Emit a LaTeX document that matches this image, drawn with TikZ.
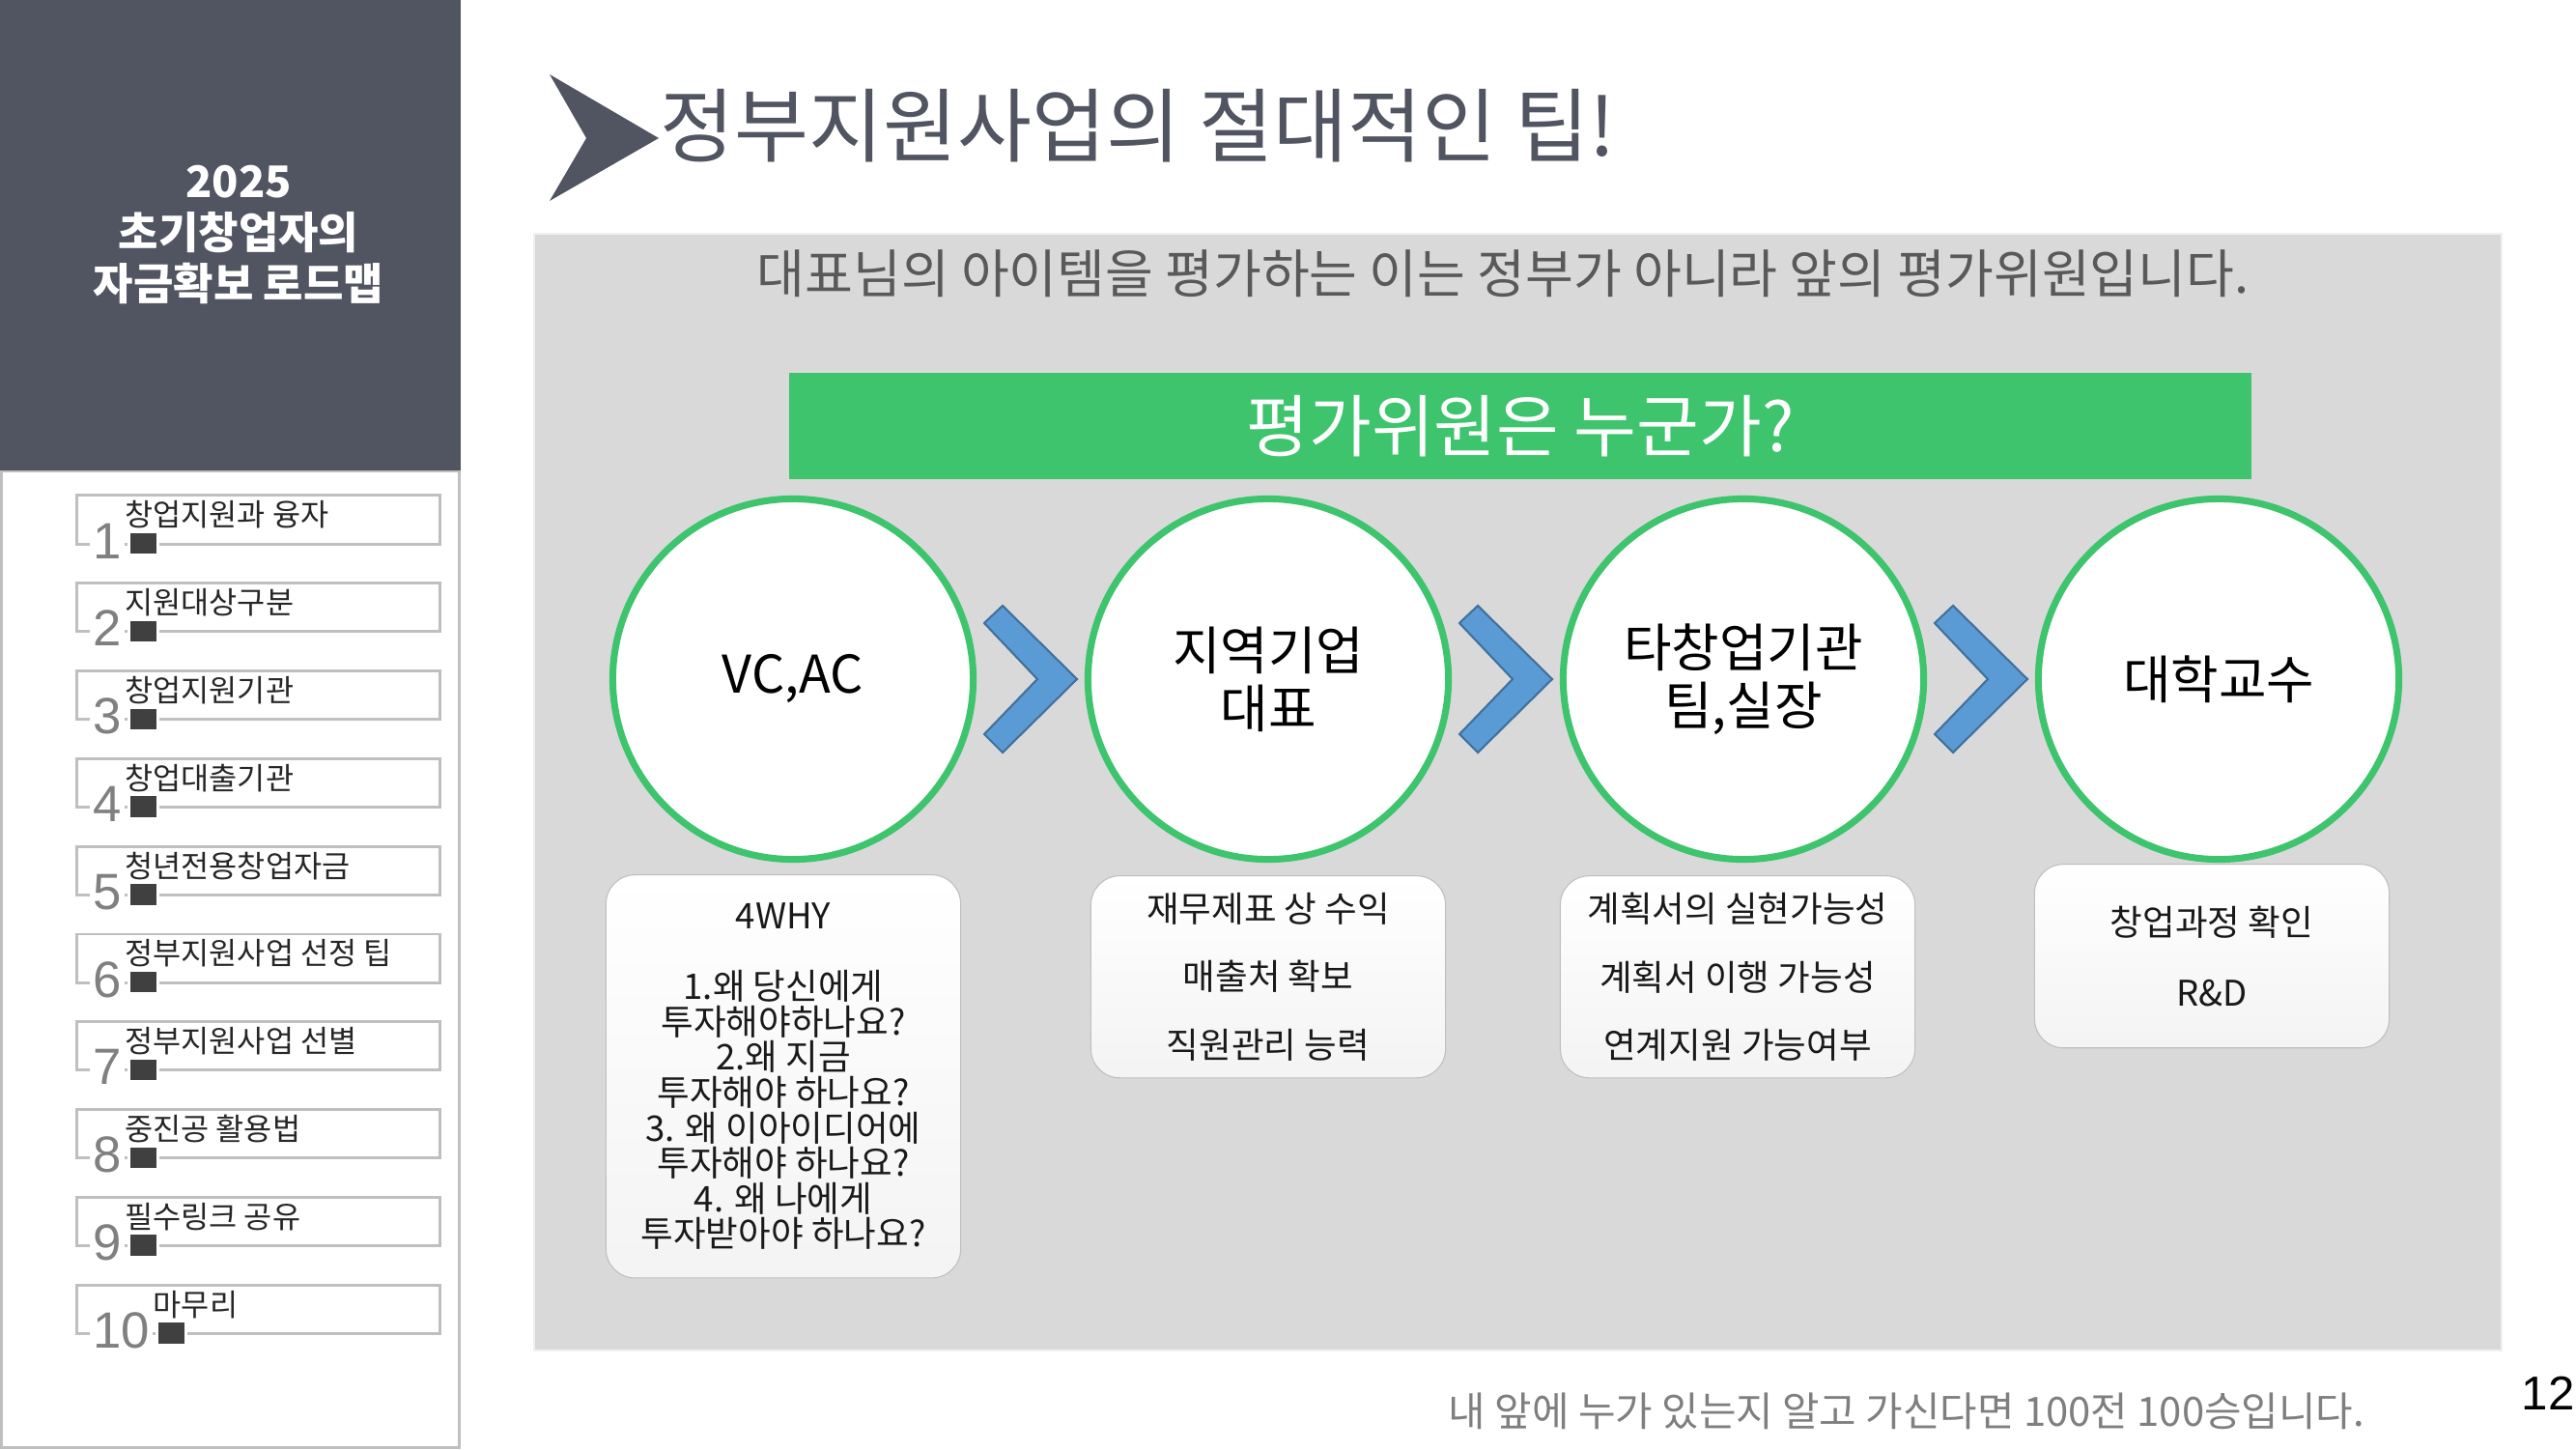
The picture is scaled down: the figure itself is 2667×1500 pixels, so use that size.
\documentclass[tikz,border=0pt]{standalone}
\usepackage{fontspec}
\setmainfont{Noto Sans CJK KR}
\newfontfamily\arialfont{Liberation Sans}
\usepackage{xcolor}
\usepackage{tikz}
\usetikzlibrary{positioning, calc}
\definecolor{slateDark}{HTML}{515561}
\definecolor{panelGrey}{HTML}{D9D9D9}
\definecolor{evalGreen}{HTML}{3EC46D}
\definecolor{chevBlue}{HTML}{5B9BD5}
\definecolor{chevEdge}{HTML}{41719C}
\definecolor{lineGrey}{HTML}{BFBFBF}
\definecolor{markGrey}{HTML}{404040}
\definecolor{textGrey}{HTML}{595959}
\definecolor{footGrey}{HTML}{7F7F7F}
\tikzset{
    menu_box/.style={
        rectangle, draw=lineGrey, line width=0.85pt,
        minimum width=3.75cm, minimum height=0.5cm, inner sep=0pt
    },
    menu_num/.style={
        font=\arialfont\fontsize{15}{15}\selectfont, text=gray,
        fill=white, inner sep=1pt, anchor=base west
    },
    menu_mark/.style={
        rectangle, fill=markGrey, draw=white, line width=1pt,
        minimum width=0.3cm, minimum height=0.25cm, inner sep=0pt, anchor=south west
    },
    menu_lbl/.style={
        font=\fontsize{9}{9}\selectfont, text=black!85, inner sep=0pt, anchor=base west
    },
    eval_circle/.style={
        circle, draw=evalGreen, line width=2pt, fill=white,
        minimum size=3.73cm, inner sep=0pt,
        align=center, font=\fontsize{15.3}{17}\selectfont
    },
    note_box/.style={
        rectangle, rounded corners=0.3cm, draw=lineGrey, line width=0.3pt,
        top color=white, bottom color=gray!9,
        minimum width=3.67cm, inner sep=0pt,
        align=center, font=\fontsize{10.4}{10.4}\selectfont, text=black!90
    },
    banner_green/.style={
        rectangle, fill=evalGreen, minimum width=15.13cm, minimum height=1.1cm,
        text=white, font=\fontsize{20}{22}\selectfont
    },
    chevron_blue/.style={
        fill=chevBlue, draw=chevEdge, line width=0.6pt, line join=miter
    }
}

\begin{document}
\begin{tikzpicture}[x=0.01cm, y=-0.01cm]
    \useasboundingbox (0,0) rectangle (2667,1500);
    \fill[white] (0,0) rectangle (2667,1500);

    % Side bar (title block & contents)
    \fill[slateDark] (0,0) rectangle (477,488);
    \draw[lineGrey, line width=0.85pt] (1.5,488) rectangle (475.5,1498.5);
    \node[font=\bfseries\fontsize{12.8}{15}\selectfont, text=white, align=center] (side) at (247,243) {2025\\초기창업자의\\자금확보 로드맵};

    \foreach \lbl [count=\i] in {창업지원과 융자, 지원대상구분, 창업지원기관, 창업대출기관, 청년전용창업자금,
        정부지원사업 선정 팁, 정부지원사업 선별, 중진공 활용법, 필수링크 공유, 마무리}{
        \pgfmathsetmacro{\yt}{513+(\i-1)*90.8}
        \node[menu_box] (m\i) at (267.5, \yt+25) {};
        \node[menu_num] (n\i) at (92, \yt+65) {\i};
        \node[menu_mark] (k\i) at ([xshift=0.5pt, yshift=0.3pt]n\i.base east) {};
        \node[menu_lbl] (t\i) at ([xshift=-0.8pt, yshift=1pt]k\i.north west) {\lbl};
    }

    % Heading
    \fill[slateDark] (569,77) -- (682,143) -- (569,208) -- (607,143) -- cycle;
    \node[anchor=west, inner sep=0pt, text=slateDark, font=\fontsize{23.8}{26}\selectfont] (ttl) at (683,130) {정부지원사업의 절대적인 팁!};

    % Grey panel
    \draw[fill=panelGrey, draw=gray!12, line width=0.8pt] (553,242) rectangle (2590,1398);
    \node[text=textGrey, font=\fontsize{15.4}{17}\selectfont] (sub) at (1556,283) {대표님의 아이템을 평가하는 이는 정부가 아니라 앞의 평가위원입니다.};
    \node[banner_green] (ban) at (1574,441) {평가위원은 누군가?};

    % Evaluators
    \node[eval_circle] (c1) at (821,703) {VC,AC};
    \node[eval_circle] (c2) at (1313,703) {지역기업\\대표};
    \node[eval_circle] (c3) at (1805,703) {타창업기관\\팀,실장};
    \node[eval_circle] (c4) at (2297,703) {대학교수};

    \foreach \a/\b in {c1/c2, c2/c3, c3/c4}{
        \coordinate (g\a) at ($(\a.east)!0.5!(\b.west)$);
        \draw[chevron_blue] (g\a) ++(-29,-76) -- ++(77,76) -- ++(-77,76) -- ++(-19,-19) -- ++(55,-57) -- ++(-55,-58) -- cycle;
    }

    % What each one looks at
    \node[note_box, minimum height=4.17cm, below=0.12cm of c1, xshift=-0.1cm] (b1) {4WHY\\[10.4pt]1.왜 당신에게\\투자해야하나요?\\2.왜 지금\\투자해야 하나요?\\3. 왜 이아이디어에\\투자해야 하나요?\\4. 왜 나에게\\투자받아야 하나요?};
    \node[note_box, minimum height=2.09cm, below=0.13cm of c2] (b2) {재무제표 상 수익\\[9.6pt]매출처 확보\\[9.6pt]직원관리 능력};
    \node[note_box, minimum height=2.09cm, below=0.13cm of c3, xshift=-0.06cm] (b3) {계획서의 실현가능성\\[9.6pt]계획서 이행 가능성\\[9.6pt]연계지원 가능여부};
    \node[note_box, minimum height=1.9cm, below=0.01cm of c4, xshift=-0.07cm] (b4) {창업과정 확인\\[10.4pt]R\&D};

    % Footer
    \node[text=footGrey, font=\fontsize{11.9}{13}\selectfont] (foot) at (1974,1461) {내 앞에 누가 있는지 알고 가신다면 100전 100승입니다.};
    \node[font=\arialfont\fontsize{14}{14}\selectfont] (pg) at (2638,1442) {12};
\end{tikzpicture}
\end{document}
